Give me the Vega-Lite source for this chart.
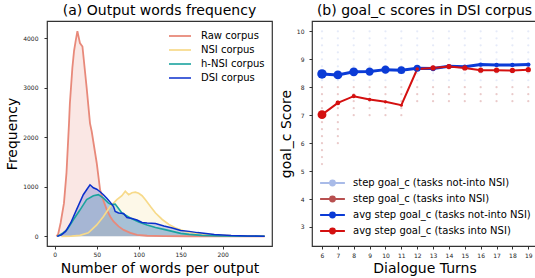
{
"$schema": "https://vega.github.io/schema/vega-lite/v6.json",
"autosize": {"type": "pad"},
"padding": {"left": 5, "top": 3, "right": 0, "bottom": 0},
"config": {
  "font": "DejaVu Sans",
  "view": {"stroke": "#333", "strokeWidth": 1.2},
  "axis": {"domain": false, "grid": false, "labelFontSize": 6, "labelColor": "#222", "tickColor": "#333", "tickSize": 3, "titleFontSize": 14, "titleFontWeight": "normal", "titleColor": "#000"},
  "title": {"fontSize": 14, "fontWeight": "normal", "offset": 3, "color": "#000"}
},
"datasets": {
  "words": [
    {"c":"Raw corpus","w":2,"f":0},{"c":"Raw corpus","w":4,"f":40},{"c":"Raw corpus","w":7,"f":270},{"c":"Raw corpus","w":11,"f":670},{"c":"Raw corpus","w":14,"f":1280},{"c":"Raw corpus","w":17,"f":2280},{"c":"Raw corpus","w":18,"f":2670},{"c":"Raw corpus","w":21,"f":3400},{"c":"Raw corpus","w":23,"f":3740},{"c":"Raw corpus","w":25,"f":3950},{"c":"Raw corpus","w":27,"f":4140},{"c":"Raw corpus","w":30,"f":3900},{"c":"Raw corpus","w":33,"f":3830},{"c":"Raw corpus","w":38,"f":3000},{"c":"Raw corpus","w":42,"f":2280},{"c":"Raw corpus","w":44,"f":2120},{"c":"Raw corpus","w":50,"f":1480},{"c":"Raw corpus","w":54,"f":940},{"c":"Raw corpus","w":58,"f":720},{"c":"Raw corpus","w":62,"f":540},{"c":"Raw corpus","w":66,"f":400},{"c":"Raw corpus","w":70,"f":300},{"c":"Raw corpus","w":76,"f":200},{"c":"Raw corpus","w":82,"f":130},{"c":"Raw corpus","w":90,"f":70},{"c":"Raw corpus","w":98,"f":30},{"c":"Raw corpus","w":110,"f":12},{"c":"Raw corpus","w":130,"f":5},{"c":"Raw corpus","w":160,"f":2},{"c":"Raw corpus","w":200,"f":1},{"c":"Raw corpus","w":250,"f":0},
    {"c":"NSI corpus","w":8,"f":0},{"c":"NSI corpus","w":20,"f":5},{"c":"NSI corpus","w":30,"f":20},{"c":"NSI corpus","w":40,"f":70},{"c":"NSI corpus","w":45,"f":150},{"c":"NSI corpus","w":50,"f":230},{"c":"NSI corpus","w":58,"f":400},{"c":"NSI corpus","w":66,"f":600},{"c":"NSI corpus","w":74,"f":740},{"c":"NSI corpus","w":80,"f":820},{"c":"NSI corpus","w":84,"f":910},{"c":"NSI corpus","w":88,"f":840},{"c":"NSI corpus","w":92,"f":880},{"c":"NSI corpus","w":96,"f":890},{"c":"NSI corpus","w":100,"f":870},{"c":"NSI corpus","w":104,"f":820},{"c":"NSI corpus","w":108,"f":740},{"c":"NSI corpus","w":114,"f":600},{"c":"NSI corpus","w":120,"f":470},{"c":"NSI corpus","w":128,"f":340},{"c":"NSI corpus","w":136,"f":240},{"c":"NSI corpus","w":145,"f":160},{"c":"NSI corpus","w":155,"f":100},{"c":"NSI corpus","w":165,"f":70},{"c":"NSI corpus","w":175,"f":50},{"c":"NSI corpus","w":190,"f":30},{"c":"NSI corpus","w":210,"f":15},{"c":"NSI corpus","w":230,"f":8},{"c":"NSI corpus","w":250,"f":3},
    {"c":"h-NSI corpus","w":3,"f":0},{"c":"h-NSI corpus","w":6,"f":30},{"c":"h-NSI corpus","w":10,"f":70},{"c":"h-NSI corpus","w":15,"f":140},{"c":"h-NSI corpus","w":22,"f":330},{"c":"h-NSI corpus","w":30,"f":530},{"c":"h-NSI corpus","w":38,"f":740},{"c":"h-NSI corpus","w":46,"f":820},{"c":"h-NSI corpus","w":52,"f":840},{"c":"h-NSI corpus","w":58,"f":770},{"c":"h-NSI corpus","w":64,"f":670},{"c":"h-NSI corpus","w":68,"f":640},{"c":"h-NSI corpus","w":72,"f":650},{"c":"h-NSI corpus","w":76,"f":560},{"c":"h-NSI corpus","w":80,"f":470},{"c":"h-NSI corpus","w":90,"f":370},{"c":"h-NSI corpus","w":100,"f":290},{"c":"h-NSI corpus","w":110,"f":230},{"c":"h-NSI corpus","w":120,"f":180},{"c":"h-NSI corpus","w":130,"f":140},{"c":"h-NSI corpus","w":140,"f":100},{"c":"h-NSI corpus","w":150,"f":60},{"c":"h-NSI corpus","w":160,"f":40},{"c":"h-NSI corpus","w":175,"f":20},{"c":"h-NSI corpus","w":200,"f":8},{"c":"h-NSI corpus","w":250,"f":2},
    {"c":"DSI corpus","w":3,"f":0},{"c":"DSI corpus","w":8,"f":30},{"c":"DSI corpus","w":13,"f":100},{"c":"DSI corpus","w":19,"f":270},{"c":"DSI corpus","w":26,"f":540},{"c":"DSI corpus","w":34,"f":840},{"c":"DSI corpus","w":38,"f":940},{"c":"DSI corpus","w":42,"f":1040},{"c":"DSI corpus","w":46,"f":980},{"c":"DSI corpus","w":50,"f":950},{"c":"DSI corpus","w":54,"f":900},{"c":"DSI corpus","w":58,"f":840},{"c":"DSI corpus","w":62,"f":770},{"c":"DSI corpus","w":66,"f":690},{"c":"DSI corpus","w":70,"f":600},{"c":"DSI corpus","w":72,"f":500},{"c":"DSI corpus","w":76,"f":470},{"c":"DSI corpus","w":82,"f":460},{"c":"DSI corpus","w":86,"f":380},{"c":"DSI corpus","w":92,"f":360},{"c":"DSI corpus","w":98,"f":330},{"c":"DSI corpus","w":104,"f":280},{"c":"DSI corpus","w":110,"f":270},{"c":"DSI corpus","w":120,"f":260},{"c":"DSI corpus","w":130,"f":210},{"c":"DSI corpus","w":140,"f":170},{"c":"DSI corpus","w":150,"f":120},{"c":"DSI corpus","w":160,"f":100},{"c":"DSI corpus","w":170,"f":75},{"c":"DSI corpus","w":180,"f":55},{"c":"DSI corpus","w":190,"f":35},{"c":"DSI corpus","w":210,"f":15},{"c":"DSI corpus","w":230,"f":8},{"c":"DSI corpus","w":250,"f":3}
  ],
  "avg": [
    {"g":"ab","t":6,"s":8.475,"n":100},{"g":"ab","t":7,"s":8.44,"n":87},{"g":"ab","t":8,"s":8.55,"n":87},{"g":"ab","t":9,"s":8.56,"n":76},{"g":"ab","t":10,"s":8.63,"n":76},{"g":"ab","t":11,"s":8.61,"n":66},{"g":"ab","t":12,"s":8.68,"n":56},{"g":"ab","t":13,"s":8.67,"n":31},{"g":"ab","t":14,"s":8.75,"n":22},{"g":"ab","t":15,"s":8.73,"n":22},{"g":"ab","t":16,"s":8.81,"n":22},{"g":"ab","t":17,"s":8.8,"n":22},{"g":"ab","t":18,"s":8.8,"n":22},{"g":"ab","t":19,"s":8.81,"n":22},
    {"g":"ar","t":6,"s":7.02,"n":87},{"g":"ar","t":7,"s":7.44,"n":25},{"g":"ar","t":8,"s":7.68,"n":19},{"g":"ar","t":9,"s":7.56,"n":14},{"g":"ar","t":10,"s":7.48,"n":12},{"g":"ar","t":11,"s":7.36,"n":10},{"g":"ar","t":12,"s":8.65,"n":14},{"g":"ar","t":13,"s":8.69,"n":31},{"g":"ar","t":14,"s":8.74,"n":31},{"g":"ar","t":15,"s":8.69,"n":31},{"g":"ar","t":16,"s":8.61,"n":31},{"g":"ar","t":17,"s":8.61,"n":31},{"g":"ar","t":18,"s":8.6,"n":31},{"g":"ar","t":19,"s":8.63,"n":31}
  ],
  "dots": [
    {"g":"sb","t":6,"s":10},{"g":"sb","t":6,"s":9.75},{"g":"sb","t":6,"s":9.5},{"g":"sb","t":6,"s":9.25},{"g":"sb","t":6,"s":9},{"g":"sb","t":6,"s":8.75},{"g":"sb","t":6,"s":8.5},{"g":"sb","t":6,"s":8.25},
    {"g":"sb","t":7,"s":10},{"g":"sb","t":7,"s":9.75},{"g":"sb","t":7,"s":9.5},{"g":"sb","t":7,"s":9.25},{"g":"sb","t":7,"s":9},{"g":"sb","t":7,"s":8.75},{"g":"sb","t":7,"s":8.5},{"g":"sb","t":7,"s":8.25},
    {"g":"sb","t":8,"s":10},{"g":"sb","t":8,"s":9.75},{"g":"sb","t":8,"s":9.5},{"g":"sb","t":8,"s":9.25},{"g":"sb","t":8,"s":9},{"g":"sb","t":8,"s":8.75},{"g":"sb","t":8,"s":8.5},{"g":"sb","t":8,"s":8.25},
    {"g":"sb","t":9,"s":10},{"g":"sb","t":9,"s":9.75},{"g":"sb","t":9,"s":9.5},{"g":"sb","t":9,"s":9.25},{"g":"sb","t":9,"s":9},{"g":"sb","t":9,"s":8.75},{"g":"sb","t":9,"s":8.5},{"g":"sb","t":9,"s":8.25},
    {"g":"sb","t":10,"s":10},{"g":"sb","t":10,"s":9.75},{"g":"sb","t":10,"s":9.5},{"g":"sb","t":10,"s":9.25},{"g":"sb","t":10,"s":9},{"g":"sb","t":10,"s":8.75},{"g":"sb","t":10,"s":8.5},{"g":"sb","t":10,"s":8.25},
    {"g":"sb","t":11,"s":10},{"g":"sb","t":11,"s":9.75},{"g":"sb","t":11,"s":9.5},{"g":"sb","t":11,"s":9.25},{"g":"sb","t":11,"s":9},{"g":"sb","t":11,"s":8.75},{"g":"sb","t":11,"s":8.5},{"g":"sb","t":11,"s":8.25},
    {"g":"sb","t":12,"s":10},{"g":"sb","t":12,"s":9.75},{"g":"sb","t":12,"s":9.5},{"g":"sb","t":12,"s":9.25},{"g":"sb","t":12,"s":9},{"g":"sb","t":12,"s":8.75},{"g":"sb","t":12,"s":8.5},{"g":"sb","t":12,"s":8.25},
    {"g":"sb","t":13,"s":10},{"g":"sb","t":13,"s":9.75},{"g":"sb","t":13,"s":9.5},{"g":"sb","t":13,"s":9.25},{"g":"sb","t":13,"s":9},{"g":"sb","t":13,"s":8.75},{"g":"sb","t":13,"s":8.5},{"g":"sb","t":13,"s":8.25},
    {"g":"sb","t":14,"s":10},{"g":"sb","t":14,"s":9.75},{"g":"sb","t":14,"s":9.5},{"g":"sb","t":14,"s":9.25},{"g":"sb","t":14,"s":9},{"g":"sb","t":14,"s":8.75},{"g":"sb","t":14,"s":8.5},{"g":"sb","t":14,"s":8.25},
    {"g":"sb","t":15,"s":10},{"g":"sb","t":15,"s":9.75},{"g":"sb","t":15,"s":9.5},{"g":"sb","t":15,"s":9.25},{"g":"sb","t":15,"s":9},{"g":"sb","t":15,"s":8.75},{"g":"sb","t":15,"s":8.5},{"g":"sb","t":15,"s":8.25},
    {"g":"sb","t":16,"s":10},{"g":"sb","t":16,"s":9.75},{"g":"sb","t":16,"s":9.5},{"g":"sb","t":16,"s":9.25},{"g":"sb","t":16,"s":9},{"g":"sb","t":16,"s":8.75},{"g":"sb","t":16,"s":8.5},{"g":"sb","t":16,"s":8.25},
    {"g":"sb","t":17,"s":10},{"g":"sb","t":17,"s":9.75},{"g":"sb","t":17,"s":9.5},{"g":"sb","t":17,"s":9.25},{"g":"sb","t":17,"s":9},{"g":"sb","t":17,"s":8.75},{"g":"sb","t":17,"s":8.5},{"g":"sb","t":17,"s":8.25},
    {"g":"sb","t":18,"s":10},{"g":"sb","t":18,"s":9.75},{"g":"sb","t":18,"s":9.5},{"g":"sb","t":18,"s":9.25},{"g":"sb","t":18,"s":9},{"g":"sb","t":18,"s":8.75},{"g":"sb","t":18,"s":8.5},{"g":"sb","t":18,"s":8.25},
    {"g":"sb","t":19,"s":10},{"g":"sb","t":19,"s":9.75},{"g":"sb","t":19,"s":9.5},{"g":"sb","t":19,"s":9.25},{"g":"sb","t":19,"s":9},{"g":"sb","t":19,"s":8.75},{"g":"sb","t":19,"s":8.5},{"g":"sb","t":19,"s":8.25},
    {"g":"sr","t":6,"s":8},{"g":"sr","t":6,"s":7.75},{"g":"sr","t":6,"s":7.5},{"g":"sr","t":6,"s":7.25},{"g":"sr","t":6,"s":7},{"g":"sr","t":6,"s":6.75},{"g":"sr","t":6,"s":6.5},{"g":"sr","t":6,"s":6.25},{"g":"sr","t":6,"s":6},{"g":"sr","t":6,"s":5.75},{"g":"sr","t":6,"s":5.5},{"g":"sr","t":6,"s":5.25},
    {"g":"sr","t":7,"s":8},{"g":"sr","t":7,"s":7.75},{"g":"sr","t":7,"s":7.5},{"g":"sr","t":7,"s":7.25},{"g":"sr","t":7,"s":7},{"g":"sr","t":7,"s":6.75},{"g":"sr","t":7,"s":6.5},{"g":"sr","t":7,"s":6.25},{"g":"sr","t":7,"s":6},
    {"g":"sr","t":8,"s":8},{"g":"sr","t":8,"s":7.75},{"g":"sr","t":8,"s":7.5},{"g":"sr","t":8,"s":7.25},{"g":"sr","t":8,"s":7},
    {"g":"sr","t":9,"s":8},{"g":"sr","t":9,"s":7.75},{"g":"sr","t":9,"s":7.5},{"g":"sr","t":9,"s":7.25},{"g":"sr","t":9,"s":7},
    {"g":"sr","t":10,"s":8},{"g":"sr","t":10,"s":7.75},{"g":"sr","t":10,"s":7.5},{"g":"sr","t":10,"s":7.25},{"g":"sr","t":10,"s":7},
    {"g":"sr","t":11,"s":8},{"g":"sr","t":11,"s":7.75},{"g":"sr","t":11,"s":7.5},{"g":"sr","t":11,"s":7.25},{"g":"sr","t":11,"s":7},
    {"g":"sr","t":12,"s":8},{"g":"sr","t":12,"s":7.75},{"g":"sr","t":12,"s":7.5},
    {"g":"sr","t":13,"s":8},{"g":"sr","t":13,"s":7.75},{"g":"sr","t":13,"s":7.5},
    {"g":"sr","t":14,"s":8},{"g":"sr","t":14,"s":7.75},{"g":"sr","t":14,"s":7.5},
    {"g":"sr","t":15,"s":8},{"g":"sr","t":15,"s":7.75},{"g":"sr","t":15,"s":7.5},
    {"g":"sr","t":16,"s":8},{"g":"sr","t":16,"s":7.75},{"g":"sr","t":16,"s":7.5},
    {"g":"sr","t":17,"s":8},{"g":"sr","t":17,"s":7.75},{"g":"sr","t":17,"s":7.5},
    {"g":"sr","t":18,"s":8},{"g":"sr","t":18,"s":7.75},{"g":"sr","t":18,"s":7.5},
    {"g":"sr","t":19,"s":8},{"g":"sr","t":19,"s":7.75},{"g":"sr","t":19,"s":7.5}
  ]
},
"hconcat": [
  {
    "width": 225, "height": 225,
    "title": "(a) Output words frequency",
    "data": {"name": "words"},
    "encoding": {
      "x": {"field": "w", "type": "quantitative", "scale": {"domain": [-9.2, 258.7], "nice": false, "zero": false}, "axis": {"values": [0, 50, 100, 150, 200], "format": "d", "title": "Number of words per output", "labelPadding": 2, "titlePadding": 4}},
      "y": {"field": "f", "type": "quantitative", "stack": null, "scale": {"domain": [-195, 4345], "nice": false, "zero": false}, "axis": {"values": [0, 1000, 2000, 3000, 4000], "format": "d", "title": "Frequency", "labelPadding": 6, "titlePadding": 3}}
    },
    "layer": [
      {"mark": {"type": "area"},
       "encoding": {"color": {"field": "c", "type": "nominal", "scale": {"domain": ["Raw corpus", "NSI corpus", "h-NSI corpus", "DSI corpus"], "range": ["#E8897A", "#F7DA8A", "#1AA39F", "#0A2FCC"]}, "legend": {"orient": "none", "legendX": 124.5, "legendY": 6.5, "title": null, "symbolType": "M-1.47,0H1.47", "symbolSize": 225, "symbolStrokeWidth": 2.5, "symbolOpacity": 1, "labelFontSize": 10, "labelColor": "#000", "labelOffset": 12.5, "rowPadding": 0, "padding": 0}},
         "fillOpacity": {"field": "c", "type": "ordinal", "scale": {"domain": ["Raw corpus", "NSI corpus", "h-NSI corpus", "DSI corpus"], "range": [0.2, 0.2, 0.3, 0.3]}, "legend": null}}},
      {"mark": {"type": "line"},
       "encoding": {"color": {"field": "c", "type": "nominal"},
         "strokeWidth": {"field": "c", "type": "ordinal", "scale": {"domain": ["Raw corpus", "NSI corpus", "h-NSI corpus", "DSI corpus"], "range": [1.8, 1.5, 2, 3]}, "legend": null}}}
    ]
  },
  {
    "width": 225, "height": 225,
    "title": "(b) goal_c scores in DSI corpus",
    "encoding": {
      "x": {"field": "t", "type": "quantitative", "scale": {"domain": [5.37, 19.55], "nice": false, "zero": false}, "axis": {"values": [6, 7, 8, 9, 10, 11, 12, 13, 14, 15, 16, 17, 18, 19], "title": "Dialogue Turns", "labelPadding": 3, "titlePadding": 3}},
      "y": {"field": "s", "type": "quantitative", "scale": {"domain": [2.32, 10.37], "nice": false, "zero": false}, "axis": {"values": [3, 4, 5, 6, 7, 8, 9, 10], "title": "goal_c Score", "labelPadding": 5, "titlePadding": 3}}
    },
    "layer": [
      {"data": {"name": "dots"}, "mark": {"type": "point", "filled": true, "size": 5, "opacity": 0.3},
       "encoding": {"color": {"field": "g", "type": "nominal", "scale": {"domain": ["sb", "sr", "ab", "ar"], "range": ["#A9BBE8", "#B85050", "#0B3BD6", "#D41010"]},
         "legend": {"orient": "none", "legendX": 11.5, "legendY": 153, "title": null, "symbolType": "M-1.55,0H1.55M0.3,0A0.3,0.3,0,1,1,-0.3,0A0.3,0.3,0,1,1,0.3,0", "symbolSize": 256, "symbolStrokeWidth": 2, "symbolOpacity": 1, "labelFontSize": 10, "labelColor": "#000", "labelOffset": 11.5, "labelLimit": 400, "rowPadding": 0, "padding": 0,
           "labelExpr": "datum.label == 'sb' ? 'step goal_c (tasks not-into NSI)' : datum.label == 'sr' ? 'step goal_c (tasks into NSI)' : datum.label == 'ab' ? 'avg step goal_c (tasks not-into NSI)' : 'avg step goal_c (tasks into NSI)'"}}}},
      {"data": {"name": "avg"}, "mark": {"type": "line"},
       "encoding": {"color": {"field": "g", "type": "nominal"},
         "strokeWidth": {"field": "g", "type": "ordinal", "scale": {"domain": ["ab", "ar"], "range": [3, 2]}, "legend": null}}},
      {"data": {"name": "avg"}, "mark": {"type": "point", "filled": true, "opacity": 1},
       "encoding": {"color": {"field": "g", "type": "nominal"},
         "size": {"field": "n", "type": "quantitative", "scale": {"domain": [0, 100], "range": [0, 90]}, "legend": null}}}
    ]
  }
],
"spacing": 40,
"bounds": "flush",
"resolve": {"scale": {"color": "independent", "strokeWidth": "independent", "fillOpacity": "independent"}, "legend": {"color": "independent"}}
}
